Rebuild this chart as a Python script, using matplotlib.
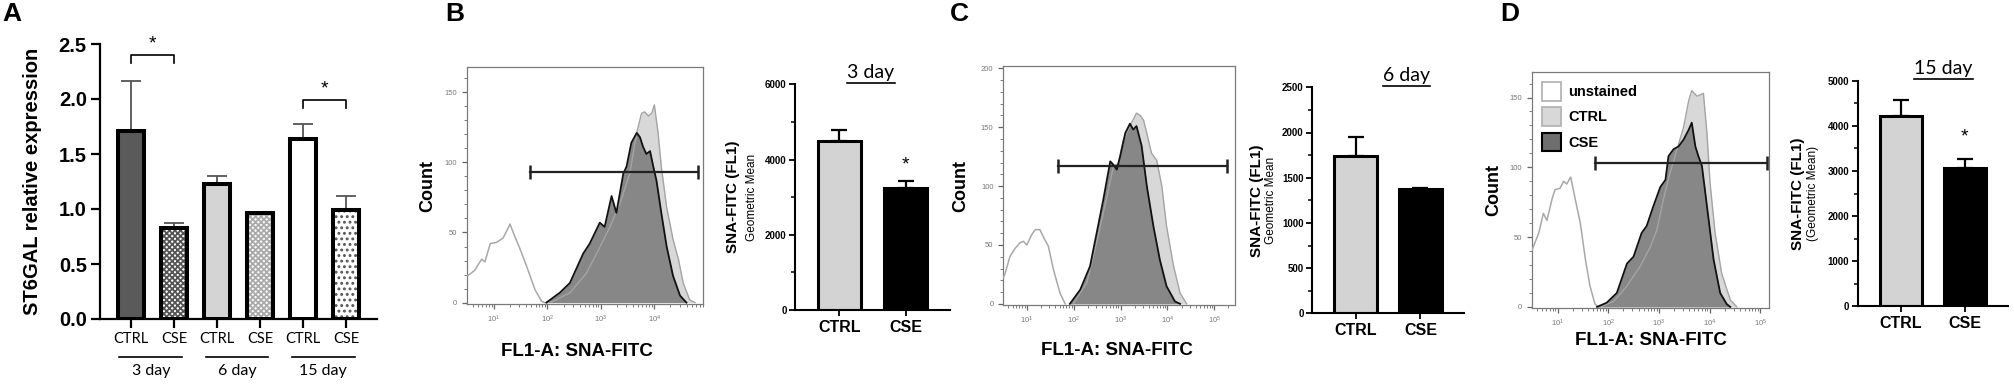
import numpy as np
import matplotlib.pyplot as plt
from matplotlib.patches import Patch
from matplotlib.ticker import MultipleLocator, FixedLocator

# ---- panel A: ST6GAL qPCR ----
a_ticklabels = ['CTRL', 'CSE', 'CTRL', 'CSE', 'CTRL', 'CSE']
a_groups = ['3 day', '6 day', '15 day']
a_vals = [1.71, 0.83, 1.23, 0.96, 1.64, 0.99]
a_err = [0.45, 0.04, 0.07, 0.01, 0.13, 0.13]
a_sig_pairs = [(0, 1), (4, 5)]
a_sig_y = [2.40, 1.99]

# ---- flow histograms (x in log10 units, y = count) ----
b_unst_x = [0.49, 0.54, 0.64, 0.77, 0.83, 0.93, 1.05, 1.17, 1.25, 1.30, 1.36, 1.49, 1.61, 1.77, 1.89, 1.95]
b_unst_y = [19, 20, 23, 31, 29, 42, 43, 46, 52, 56, 50, 38, 26, 9, 1, 0]
b_ctrl_x = [2.00, 2.11, 2.42, 2.73, 2.92, 3.17, 3.36, 3.54, 3.67, 3.76, 3.82, 3.89, 3.95, 4.00,
            4.07, 4.13, 4.23, 4.35, 4.45, 4.54, 4.66, 4.76]
b_ctrl_y = [0, 1, 7, 21, 35, 54, 71, 92, 121, 135, 136, 133, 135, 141, 121, 97, 68, 45, 31, 14, 2, 0]
b_cse_x = [1.98, 2.23, 2.42, 2.67, 2.79, 2.98, 3.07, 3.20, 3.29, 3.42, 3.48, 3.57, 3.67, 3.73,
           3.79, 3.85, 3.92, 3.98, 4.04, 4.13, 4.23, 4.35, 4.48, 4.60]
b_cse_y = [0, 7, 14, 35, 42, 57, 54, 76, 64, 92, 97, 114, 121, 118, 111, 106, 108, 97, 87, 64, 40, 19, 5, 0]
b_gate = (1.67, 4.82, 93)

c_unst_x = [0.50, 0.54, 0.64, 0.75, 0.86, 0.93, 1.00, 1.11, 1.18, 1.28, 1.39, 1.46, 1.57, 1.71, 1.82]
c_unst_y = [22, 26, 40, 47, 52, 53, 50, 59, 63, 63, 54, 49, 29, 9, 0]
c_ctrl_x = [1.99, 2.28, 2.49, 2.71, 2.85, 2.95, 3.06, 3.20, 3.34, 3.42, 3.49, 3.56, 3.66, 3.77,
            3.88, 3.98, 4.13, 4.27, 4.41]
c_ctrl_y = [0, 18, 52, 91, 117, 119, 139, 151, 162, 160, 156, 145, 128, 122, 100, 66, 32, 9, 0]
c_cse_x = [1.92, 2.14, 2.35, 2.49, 2.63, 2.78, 2.85, 2.92, 2.99, 3.10, 3.20, 3.27, 3.34, 3.45,
           3.56, 3.70, 3.84, 3.98, 4.16, 4.27]
c_cse_y = [0, 12, 32, 60, 88, 121, 118, 114, 125, 145, 153, 148, 151, 134, 100, 66, 37, 15, 2, 0]
c_gate = (1.67, 5.26, 117)

d_unst_x = [0.49, 0.51, 0.63, 0.72, 0.79, 0.89, 0.95, 1.05, 1.12, 1.18, 1.26, 1.35, 1.45, 1.55,
            1.64, 1.74, 1.81]
d_unst_y = [40, 42, 53, 67, 62, 77, 84, 85, 90, 88, 93, 77, 60, 34, 15, 2, 0]
d_ctrl_x = [1.84, 2.11, 2.37, 2.63, 2.83, 2.96, 3.09, 3.22, 3.36, 3.49, 3.59, 3.65, 3.75, 3.82,
            3.88, 3.95, 4.01, 4.11, 4.24, 4.41, 4.54]
d_ctrl_y = [0, 4, 15, 29, 43, 55, 77, 96, 113, 129, 148, 155, 151, 152, 153, 124, 89, 53, 24, 5, 0]
d_cse_x = [1.78, 1.97, 2.17, 2.37, 2.50, 2.66, 2.76, 2.89, 3.03, 3.13, 3.19, 3.29, 3.39, 3.49,
           3.59, 3.65, 3.72, 3.78, 3.85, 3.95, 4.08, 4.21, 4.34, 4.41]
d_cse_y = [0, 3, 10, 31, 36, 53, 58, 72, 86, 91, 108, 113, 115, 120, 127, 132, 115, 108, 101,
           72, 34, 10, 2, 0]
d_gate = (1.74, 5.13, 103)
legend_labels = ['unstained', 'CTRL', 'CSE']

# ---- geometric mean bars ----
bar_labels = ['CTRL', 'CSE']
b_vals, b_err = [4480, 3250], [300, 190]
c_vals, c_err = [1735, 1372], [220, 18]
d_vals, d_err = [4230, 3059], [345, 215]

W, H = 2014, 384
plt.rcParams['font.family'] = ['Liberation Sans', 'DejaVu Sans']
plt.rcParams['hatch.linewidth'] = 1.3
fig = plt.figure(figsize=(W / 100, H / 100), dpi=100)


def px_axes(x0, y0, x1, y1):
    return fig.add_axes([x0 / W, 1 - y1 / H, (x1 - x0) / W, (y1 - y0) / H])


# ================= A =================
axA = px_axes(100, 44, 377, 319)
xa = np.arange(len(a_vals))
faces = ['#5a5a5a', 'white', '#d4d4d4', 'white', 'white', 'white']
hatches = [None, 'xxxxxx', None, 'xxxxxx', None, '...']
hcols = ['#5a5a5a', '#555555', '#d4d4d4', '#aaaaaa', 'white', '#555555']
axA.errorbar(xa, a_vals, yerr=[np.zeros(len(a_vals)), a_err], fmt='none', ecolor='#555555',
             elinewidth=1.3, capsize=7, capthick=1.3, zorder=1)
for i in range(len(a_vals)):
    axA.bar(xa[i], a_vals[i], 0.6, color=faces[i], edgecolor=hcols[i], hatch=hatches[i],
            linewidth=0, zorder=2)
axA.bar(xa, a_vals, 0.6, fill=False, edgecolor='black', linewidth=2.9, zorder=3)
axA.set_xlim(-0.72, 5.71)
axA.set_ylim(0, 2.5)
axA.set_yticks(np.arange(0, 2.51, 0.5))
axA.set_yticklabels(['%.1f' % v for v in np.arange(0, 2.51, 0.5)], fontsize=14.5, fontweight='bold')
axA.set_xticks(xa)
axA.set_xticklabels(a_ticklabels, fontsize=10.5, family='Lato')
axA.tick_params(axis='both', length=6.5, width=1.6, pad=3)
for s in ['top', 'right']:
    axA.spines[s].set_visible(False)
for s in ['left', 'bottom']:
    axA.spines[s].set_linewidth(1.6)
axA.set_ylabel('ST6GAL relative expression', fontsize=14.5, fontweight='bold')
axA.yaxis.set_label_coords(-0.21, 0.5)
tr = axA.get_xaxis_transform()
for g, name in enumerate(a_groups):
    c = 2 * g + 0.46
    axA.plot([c - 0.73, c + 0.73], [-0.138, -0.138], transform=tr, clip_on=False,
             color='black', lw=1.2)
    axA.text(c, -0.19, name, transform=tr, ha='center', va='center', fontsize=11.5, family='Lato')
for (i, j), y in zip(a_sig_pairs, a_sig_y):
    axA.plot([i, i, j, j], [y - 0.07, y, y, y - 0.07], color='black', lw=1.2, clip_on=False)
    axA.text((i + j) / 2, y + 0.02, '*', ha='center', va='bottom', fontsize=14, clip_on=False)


# ================= histograms =================
def hist_panel(rect, unst, ctrl, cse, gate, xl, yl, ymax_tick, count_dx, lab_xy, legend=False):
    ax = px_axes(*rect)
    w = rect[2] - rect[0]
    ux, uy = 10 ** np.array(unst[0]), unst[1]
    cx, cy = 10 ** np.array(ctrl[0]), ctrl[1]
    sx, sy = 10 ** np.array(cse[0]), cse[1]
    ax.fill_between(cx, cy, color='#d8d8d8', lw=0, zorder=1)
    ax.fill_between(sx, sy, color='#878787', lw=0, zorder=2)
    ax.plot(cx, cy, color='#a4a4a4', lw=1.0, zorder=3)
    ax.plot(sx, sy, color='#111111', lw=1.3, zorder=4)
    ax.plot(ux, uy, color='#a8a8a8', lw=1.1, zorder=3)
    gx = [10 ** gate[0], 10 ** gate[1]]
    ax.plot(gx, [gate[2], gate[2]], color='#222222', lw=1.6, zorder=5)
    ax.plot(gx, [gate[2], gate[2]], ls='none', marker='|', ms=10, mew=1.8, color='#222222', zorder=5)
    ax.set_xscale('log')
    ax.set_xlim(10 ** xl[0], 10 ** xl[1])
    ax.set_ylim(*yl)
    ax.yaxis.set_major_locator(FixedLocator(np.arange(0, ymax_tick + 1, 50)))
    ax.yaxis.set_minor_locator(MultipleLocator(10))
    for s in ax.spines.values():
        s.set_color('#7a7a7a')
        s.set_linewidth(0.9)
    ax.tick_params(which='both', colors='#666666', labelsize=5.5, labelcolor='#777777')
    ax.tick_params(which='major', length=3.5, width=0.9)
    ax.tick_params(which='minor', length=2, width=0.6)
    ax.text(count_dx / w, 0.5, 'Count', rotation=90, transform=ax.transAxes, ha='center',
            va='center', fontsize=13, fontweight='bold')
    ax.text(lab_xy[0], lab_xy[1], 'FL1-A: SNA-FITC', transform=ax.transAxes, ha='center',
            va='center', fontsize=13.5, fontweight='bold')
    if legend:
        handles = [Patch(facecolor='white', edgecolor='#b4b4b4', lw=1.3),
                   Patch(facecolor='#d8d8d8', edgecolor='#b4b4b4', lw=1.3),
                   Patch(facecolor='#6e6e6e', edgecolor='black', lw=1.5)]
        ax.legend(handles, legend_labels, loc='upper left', frameon=False,
                  prop={'weight': 'bold', 'size': 10.5}, handlelength=1.3, handleheight=1.6,
                  labelspacing=0.45, borderaxespad=0.3, handletextpad=0.5)
    return ax


hist_panel((466.7, 67, 703, 304), (b_unst_x, b_unst_y), (b_ctrl_x, b_ctrl_y), (b_cse_x, b_cse_y),
           b_gate, (0.49, 4.91), (-1, 168), 150, -39, (0.467, -0.2))
hist_panel((1003.3, 66, 1235, 305), (c_unst_x, c_unst_y), (c_ctrl_x, c_ctrl_y), (c_cse_x, c_cse_y),
           c_gate, (0.50, 5.44), (-1, 202), 200, -43, (0.49, -0.19))
hist_panel((1531.7, 71.7, 1769.3, 308.3), (d_unst_x, d_unst_y), (d_ctrl_x, d_ctrl_y),
           (d_cse_x, d_cse_y), d_gate, (0.49, 5.18), (-1, 168.5), 150, -38, (0.5, -0.135),
           legend=True)


# ================= bar panels =================
def bar_panel(rect, vals, err, ymax, major, minor, title, title_x, sub, lab_x, star):
    ax = px_axes(*rect)
    xb = np.arange(len(vals))
    ax.errorbar(xb, vals, yerr=[[0, 0], err], fmt='none', ecolor='black', elinewidth=1.6,
                capsize=6, capthick=1.6, zorder=1)
    ax.bar(xb, vals, 0.65, color=['#d3d3d3', 'black'], edgecolor='black', linewidth=2.2, zorder=2)
    ax.set_xlim(-0.67, 1.67)
    ax.set_ylim(0, ymax)
    ax.yaxis.set_major_locator(MultipleLocator(major))
    ax.yaxis.set_minor_locator(MultipleLocator(minor))
    ax.set_xticks(xb)
    ax.set_xticklabels(bar_labels, fontsize=11.5, fontweight='bold')
    for t in ax.get_yticklabels():
        t.set_fontweight('bold')
        t.set_fontsize(7)
    for s in ['top', 'right']:
        ax.spines[s].set_visible(False)
    for s in ['left', 'bottom']:
        ax.spines[s].set_linewidth(1.5)
    ax.tick_params(which='major', length=4, width=1.3, pad=2)
    ax.tick_params(which='minor', length=3, width=1.1)
    ax.tick_params(axis='x', pad=3)
    ax.text(lab_x[0], 0.5, 'SNA-FITC (FL1)', rotation=90, transform=ax.transAxes, ha='center',
            va='center', fontsize=11, fontweight='bold')
    ax.text(lab_x[1], 0.5, sub, rotation=90, transform=ax.transAxes, ha='center', va='center',
            fontsize=8.5)
    t = ax.text(title_x, 1.03, title, transform=ax.transAxes, ha='center', va='baseline',
                fontsize=14, family='Lato')
    if star is not None:
        ax.text(1, star, '*', ha='center', va='center', fontsize=14)
    return ax, t


axB, tB = bar_panel((795, 84.3, 950, 310), b_vals, b_err, 6000, 2000, 1000, '3 day', 0.49,
                    'Geometric Mean', (-0.40, -0.275), 3850)
axC, tC = bar_panel((1312, 87.3, 1464, 313.3), c_vals, c_err, 2500, 500, 250, '6 day', 0.62,
                    'Geometric Mean', (-0.36, -0.27), None)
axD, tD = bar_panel((1857.7, 81, 2008, 306), d_vals, d_err, 5000, 1000, 500, '15 day', 0.57,
                    '(Geometric Mean)', (-0.40, -0.30), 3750)

# underline the day titles
fig.canvas.draw()
rend = fig.canvas.get_renderer()
for t in (tB, tC, tD):
    bb = t.get_window_extent(rend)
    y = bb.y0 - 2
    fig.add_artist(plt.Line2D([bb.x0 / W, bb.x1 / W], [y / H, y / H], color='black', lw=1.2))

# panel letters
for lab, xp in zip('ABCD', [2, 445, 950, 1500]):
    fig.text(xp / W, 1 - 2 / H, lab, fontsize=19, fontweight='bold', va='top', ha='left')

fig.savefig('out.png', dpi=100)
